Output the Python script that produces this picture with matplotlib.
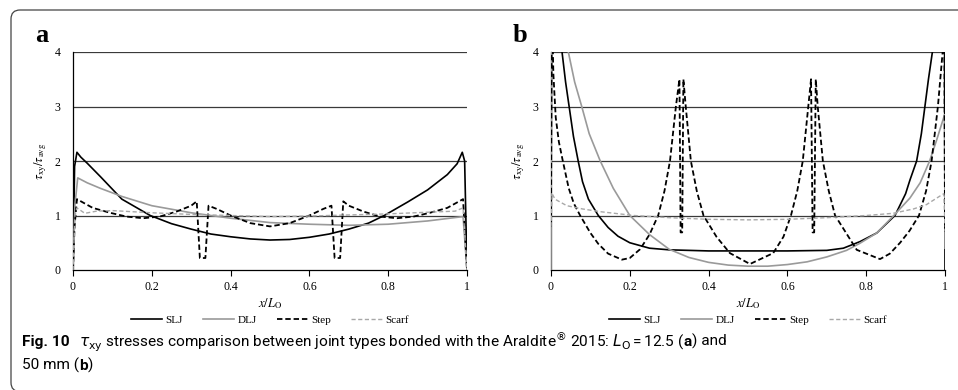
import numpy as np
import matplotlib.pyplot as plt
from matplotlib import font_manager
from matplotlib.patches import FancyBboxPatch
from matplotlib.transforms import IdentityTransform

# ---- panel a (L_O = 12.5 mm) ----
slj_a_x = [0, 0.004, 0.01, 0.02, 0.036, 0.07, 0.124, 0.196, 0.25, 0.3, 0.35, 0.4, 0.45, 0.5,
           0.55, 0.6, 0.65, 0.7, 0.75, 0.79, 0.85, 0.9, 0.95, 0.975, 0.988, 0.994, 1.0]
slj_a_y = [0, 1.9, 2.16, 2.07, 1.96, 1.71, 1.3, 1.0, 0.85, 0.75, 0.66, 0.61, 0.57, 0.55,
           0.56, 0.6, 0.66, 0.75, 0.86, 1.0, 1.25, 1.47, 1.75, 1.95, 2.16, 2.0, 0]

dlj_a_x = [0, 0.005, 0.012, 0.036, 0.069, 0.124, 0.2, 0.3, 0.4, 0.5, 0.6, 0.7, 0.8, 0.9, 0.99, 1.0]
dlj_a_y = [0, 1.2, 1.69, 1.6, 1.5, 1.35, 1.18, 1.05, 0.95, 0.87, 0.84, 0.82, 0.84, 0.9, 0.98, 0]

step_a_x = [0, 0.004, 0.01, 0.05, 0.094, 0.136, 0.178, 0.22, 0.262, 0.3, 0.314, 0.322, 0.336,
            0.344, 0.365, 0.4, 0.45, 0.5, 0.55, 0.6, 0.635, 0.656, 0.664, 0.678, 0.686, 0.7,
            0.738, 0.78, 0.822, 0.864, 0.906, 0.95, 0.99, 1.0]
step_a_y = [0, 0.8, 1.3, 1.14, 1.05, 0.98, 0.95, 0.98, 1.07, 1.18, 1.26, 0.22, 0.22,
            1.18, 1.12, 1.0, 0.86, 0.8, 0.86, 1.0, 1.12, 1.18, 0.22, 0.22, 1.26, 1.18,
            1.07, 0.98, 0.95, 0.98, 1.05, 1.14, 1.3, 0]

scarf_a_x = [0, 0.005, 0.01, 0.03, 0.06, 0.1, 0.2, 0.3, 0.4, 0.5, 0.6, 0.7, 0.8, 0.9, 0.97, 0.99, 1.0]
scarf_a_y = [0, 1.0, 1.14, 1.04, 1.08, 1.09, 1.05, 1.02, 1.0, 0.98, 0.99, 1.01, 1.03, 1.06, 1.08, 1.14, 0]

# ---- panel b (L_O = 50 mm) ----
slj_b_x = [0, 0.002, 0.028, 0.037, 0.046, 0.057, 0.069, 0.08, 0.095, 0.12, 0.145, 0.17, 0.2,
           0.25, 0.3, 0.4, 0.5, 0.6, 0.7, 0.742, 0.784, 0.827, 0.873, 0.9, 0.911, 0.928, 0.94,
           0.949, 0.958, 0.968, 0.99, 0.998, 1.0]
slj_b_y = [0, 8, 4.0, 3.45, 3.0, 2.45, 2.0, 1.62, 1.3, 1.0, 0.78, 0.62, 0.5,
           0.4, 0.37, 0.35, 0.35, 0.35, 0.36, 0.4, 0.52, 0.68, 1.0, 1.4, 1.65, 2.0, 2.5,
           3.0, 3.5, 4.0, 8, 8, 0]

dlj_b_x = [0, 0.002, 0.044, 0.06, 0.078, 0.097, 0.125, 0.158, 0.2, 0.25, 0.3, 0.35, 0.4, 0.45,
           0.5, 0.55, 0.6, 0.65, 0.7, 0.75, 0.784, 0.827, 0.87, 0.911, 0.937, 0.961, 0.979,
           0.999, 1.0]
dlj_b_y = [0, 8, 4.0, 3.45, 3.0, 2.5, 2.0, 1.5, 1.0, 0.65, 0.38, 0.23, 0.14, 0.09,
           0.07, 0.07, 0.1, 0.15, 0.24, 0.36, 0.49, 0.68, 1.0, 1.32, 1.6, 2.0, 2.39,
           2.85, 0.4]

step_b_x = [0.0, 0.002, 0.006, 0.012, 0.02, 0.03, 0.045, 0.058, 0.074, 0.1, 0.12, 0.145, 0.18,
            0.2, 0.226, 0.25, 0.272, 0.288, 0.302, 0.317, 0.326, 0.329, 0.333, 0.336, 0.342,
            0.355, 0.37, 0.387, 0.42, 0.454, 0.505, 0.564, 0.59, 0.609, 0.625, 0.639, 0.653,
            0.66, 0.664, 0.668, 0.672, 0.677, 0.69, 0.705, 0.721, 0.776, 0.835, 0.86, 0.886,
            0.91, 0.934, 0.952, 0.966, 0.982, 0.994, 0.998, 1.0]
step_b_y = [0.8, 5.0, 3.6, 2.8, 2.35, 2.0, 1.5, 1.22, 1.0, 0.68, 0.48, 0.3, 0.19,
            0.22, 0.38, 0.65, 1.0, 1.45, 2.0, 3.0, 3.5, 0.69, 0.69, 3.5, 3.0,
            2.0, 1.45, 1.0, 0.61, 0.31, 0.11, 0.31, 0.61, 1.0, 1.45, 2.0, 3.0,
            3.5, 0.69, 0.69, 3.5, 3.0, 2.0, 1.45, 1.0, 0.37, 0.2, 0.3, 0.5,
            0.72, 1.0, 1.45, 2.0, 3.0, 4.0, 5.0, 0.7]

scarf_b_x = [0, 0.003, 0.01, 0.04, 0.08, 0.125, 0.21, 0.3, 0.4, 0.5, 0.6, 0.7, 0.8, 0.868,
             0.92, 0.953, 0.99, 0.997, 1.0]
scarf_b_y = [0.8, 1.4, 1.3, 1.18, 1.12, 1.07, 1.0, 0.96, 0.93, 0.92, 0.93, 0.96, 1.0, 1.04,
             1.12, 1.2, 1.37, 1.4, 0.8]

xticks = [0, 0.2, 0.4, 0.6, 0.8, 1.0]
xtick_labels = ['0', '0.2', '0.4', '0.6', '0.8', '1']
yticks = [0, 1, 2, 3, 4]
series_names = ['SLJ', 'DLJ', 'Step', 'Scarf']

plt.rcParams['font.family'] = 'Liberation Serif'
plt.rcParams['mathtext.fontset'] = 'stix'

names = {f.name for f in font_manager.fontManager.ttflist}
if 'Liberation Sans Narrow' in names:
    cap_font, cap_size = 'Liberation Sans Narrow', 11.5
else:
    cap_font, cap_size = 'Roboto', 11.1

W, H = 958, 390
fig = plt.figure(figsize=(W / 100, H / 100), dpi=100)

# rounded frame (page box, cropped on the right and bottom)
frame = FancyBboxPatch((11, -1.5), 1000, 381.5, boxstyle='round,pad=0,rounding_size=9',
                       transform=IdentityTransform(), fill=False, ec='#444444', lw=0.9)
fig.patches.append(frame)

styles = [dict(color='black', lw=1.2, ls='-'),
          dict(color='#9a9a9a', lw=1.2, ls='-'),
          dict(color='black', lw=1.3, ls=(0, (3, 1.6))),
          dict(color='#a8a8a8', lw=1.0, ls=(0, (3, 1.8)))]

panels = [
    ('a', 73, [(slj_a_x, slj_a_y), (dlj_a_x, dlj_a_y), (step_a_x, step_a_y), (scarf_a_x, scarf_a_y)]),
    ('b', 551, [(slj_b_x, slj_b_y), (dlj_b_x, dlj_b_y), (step_b_x, step_b_y), (scarf_b_x, scarf_b_y)]),
]

for tag, left, data in panels:
    ax = fig.add_axes([left / W, 120 / H, 394 / W, 218 / H])
    for y in yticks[1:]:
        ax.axhline(y, color='#3a3a3a', lw=0.9, zorder=1)
    handles = []
    for (xs, ys), st, name in zip(data, styles, series_names):
        h, = ax.plot(xs, ys, label=name, zorder=3, **st)
        handles.append(h)
    ax.set_xlim(0, 1)
    ax.set_ylim(0, 4)
    ax.set_xticks(xticks)
    ax.set_xticklabels(xtick_labels)
    ax.set_yticks(yticks)
    for s in ['top', 'right']:
        ax.spines[s].set_visible(False)
    for s in ['left', 'bottom']:
        ax.spines[s].set_linewidth(0.9)
    ax.tick_params(axis='x', direction='out', length=4, width=0.8, labelsize=8.5, pad=4)
    ax.tick_params(axis='y', direction='out', length=0, labelsize=8.5, pad=9)
    ax.set_xlabel(r'$x/L_{\mathrm{O}}$', fontsize=9, labelpad=2)
    ax.set_ylabel(r'$\tau_{\mathrm{xy}}/\tau_{\mathrm{avg}}$', fontsize=9, labelpad=4)
    ax.legend(handles=handles, loc='center', bbox_to_anchor=(0.5, -0.23), ncol=4,
              frameon=False, fontsize=8, handlelength=2.8, columnspacing=1.8,
              handletextpad=0.3)
    fig.text((left - 31) / W, 1 - 35 / H, tag, fontsize=19, fontweight='bold',
             ha='center', va='center')

# caption
renderer = fig.canvas.get_renderer()


def put_line(x0, y0, parts):
    x = x0
    for s, weight, gap in parts:
        t = fig.text(x / W, 1 - y0 / H, s, family=cap_font, fontsize=cap_size,
                     fontweight=weight, va='baseline', ha='left',
                     math_fontfamily='dejavusans')
        x += t.get_window_extent(renderer).width + gap


put_line(22, 346, [
    ('Fig. 10', 'bold', 9),
    (r'$\tau_{\mathrm{xy}}$ stresses comparison between joint types bonded with the '
     r'Araldite$^{\circledR}$ 2015: $L_{\mathrm{O}}\,$=$\,$12.5 (', 'normal', 0),
    ('a', 'bold', 0),
    (') and', 'normal', 0),
])
put_line(22, 370, [
    ('50 mm (', 'normal', 0),
    ('b', 'bold', 0),
    (')', 'normal', 0),
])

fig.savefig('out.png', dpi=100)
